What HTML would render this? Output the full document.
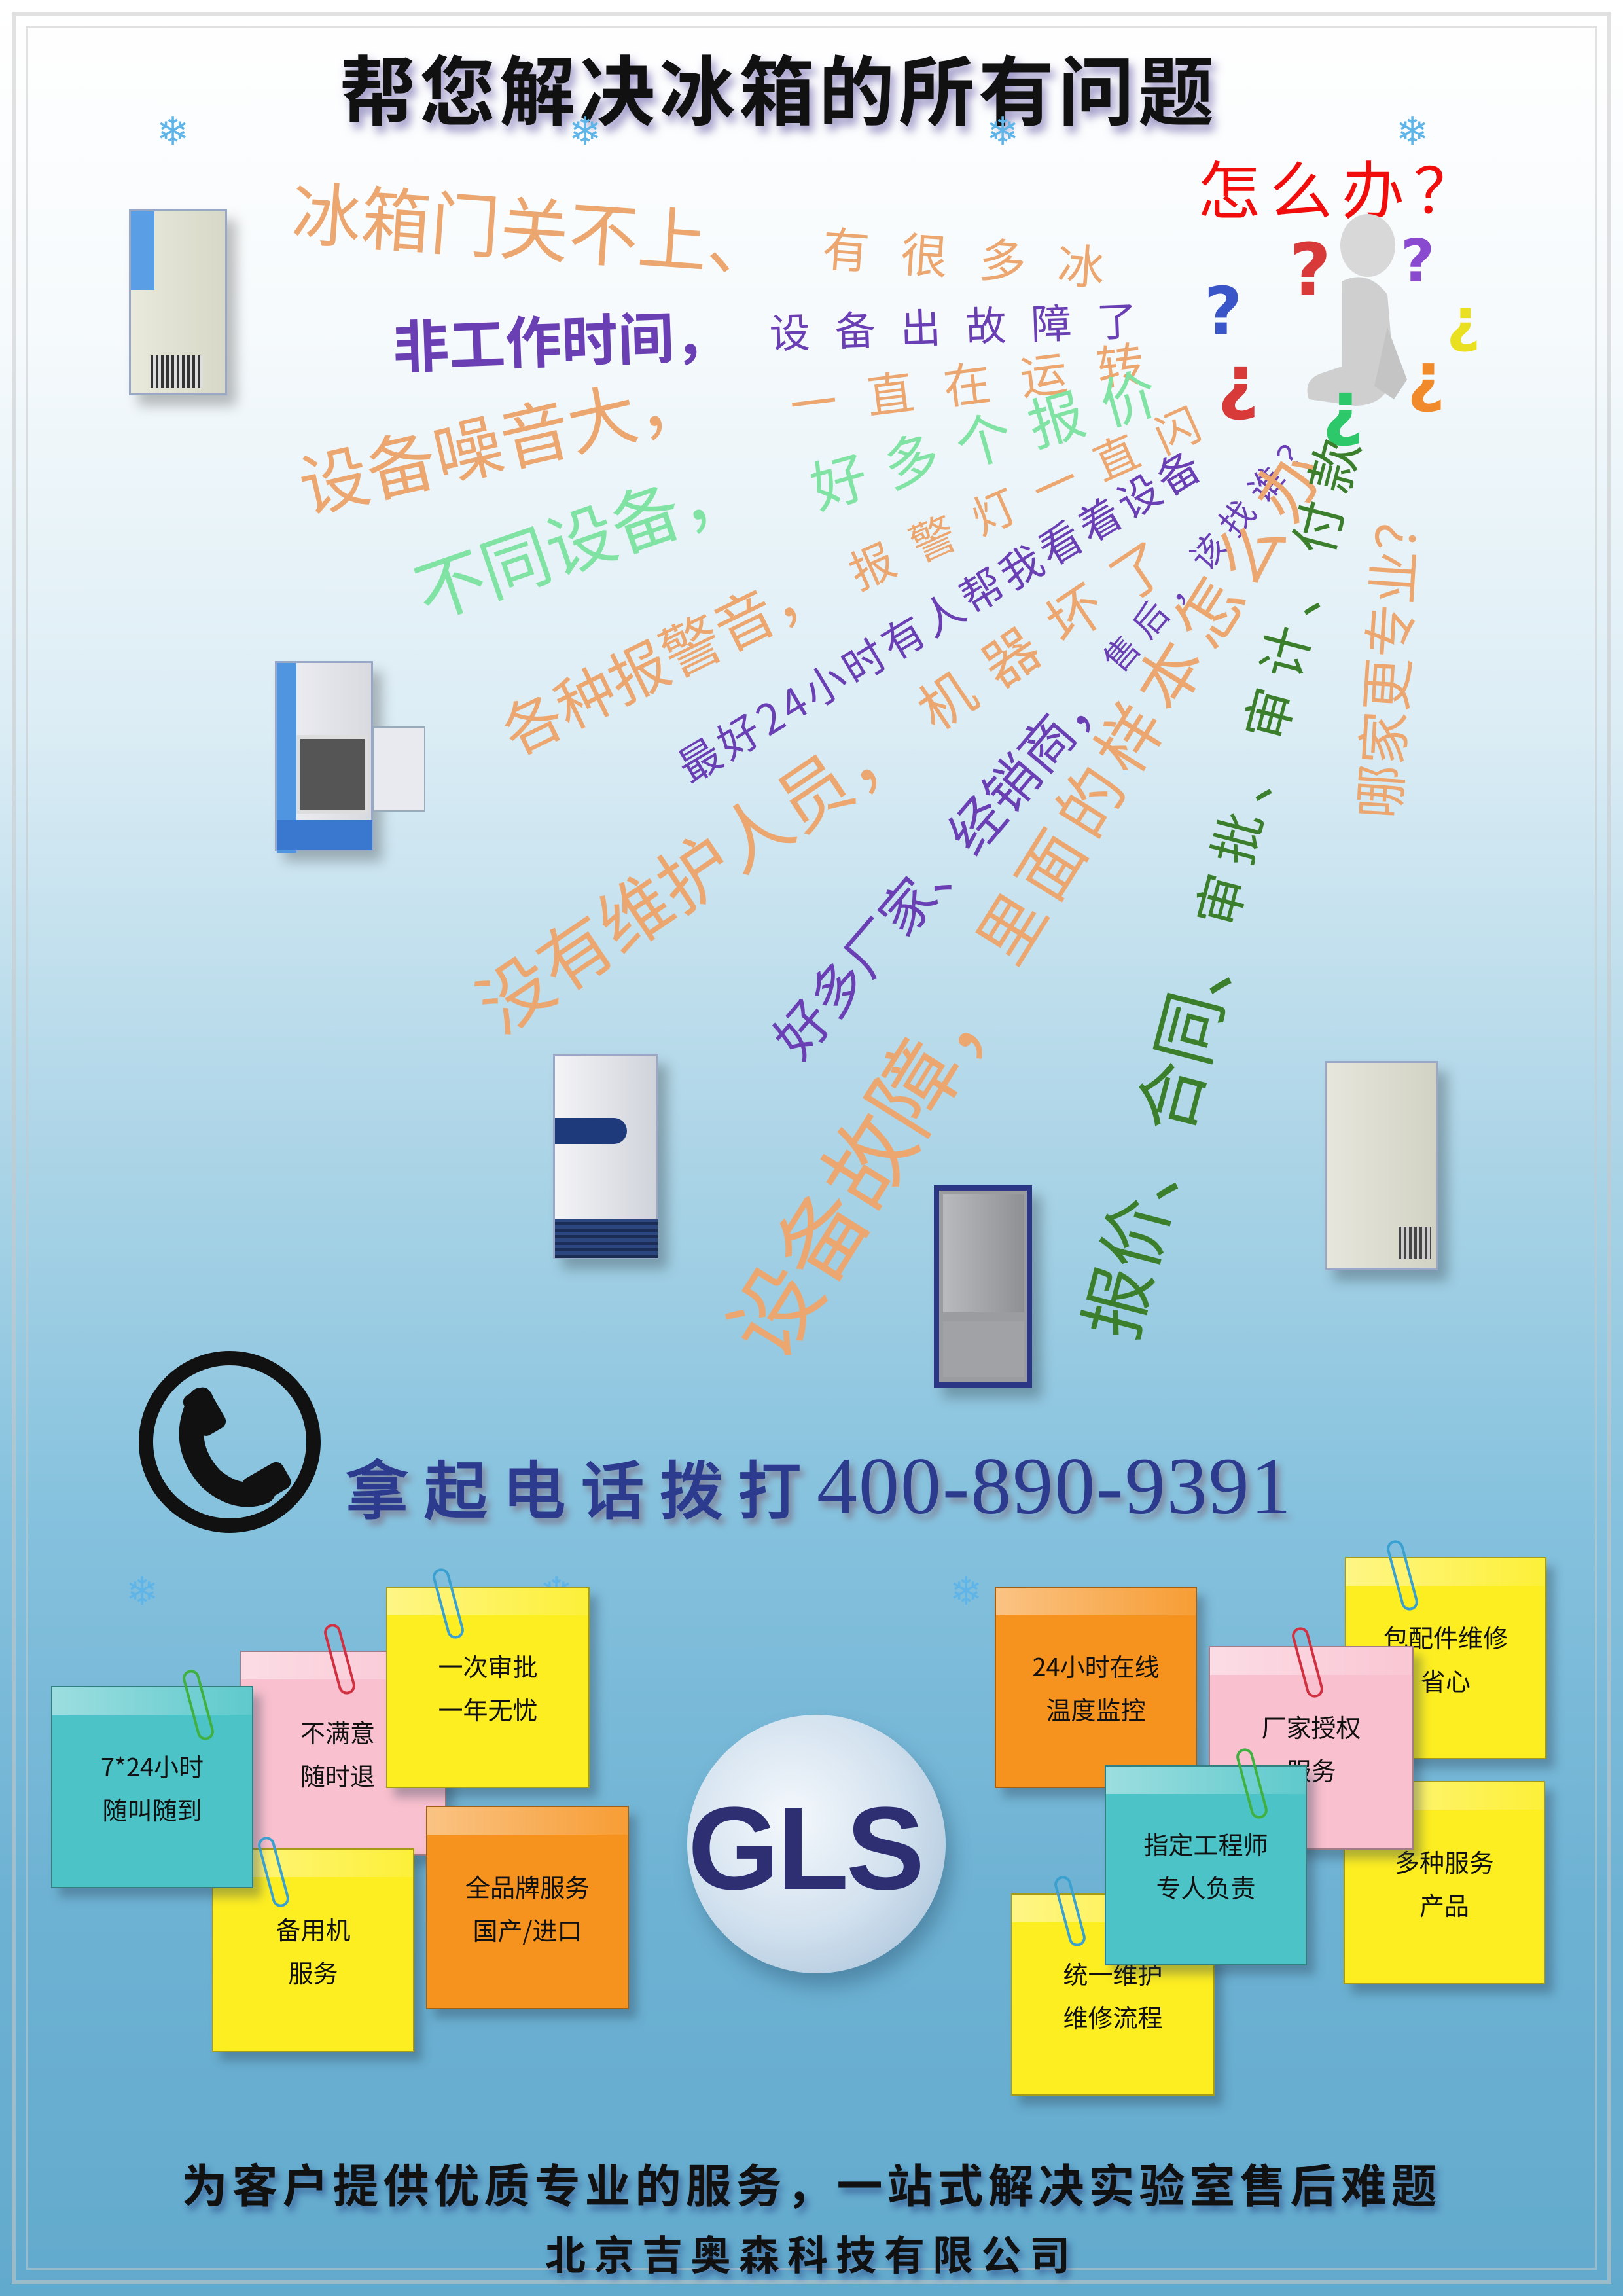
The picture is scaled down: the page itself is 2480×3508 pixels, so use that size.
<!DOCTYPE html>
<html><head><meta charset="utf-8">
<style>
*{margin:0;padding:0;box-sizing:border-box}
body{width:2480px;height:3508px;overflow:hidden;position:relative;font-family:"Liberation Sans","WenQuanYi Zen Hei","Noto Sans CJK SC",sans-serif;
background:linear-gradient(180deg,#ffffff 0px,#f6fafc 500px,#dcedf5 1100px,#a9d3e6 1800px,#86c2de 2300px,#6eb2d3 2900px,#62aacd 3508px);}
.abs{position:absolute}
.frame{position:absolute;border:6px solid rgba(200,200,200,.55)}
.ln{position:absolute;white-space:nowrap;transform-origin:0 50%;display:flex;align-items:center;line-height:1;font-family:"WenQuanYi Zen Hei","Noto Sans CJK SC",sans-serif}
.o{color:#eca670}.p{color:#6a3fb3}.g{color:#80e3a4}.dg{color:#3b7f2c}
.snow{position:absolute;color:#5fb4e8;font-size:60px;font-family:"DejaVu Sans",sans-serif;transform:translate(-50%,-50%)}
.note{position:absolute;box-shadow:12px 14px 14px rgba(40,60,80,.35);border:2px solid rgba(0,0,0,.35);display:flex;flex-direction:column;justify-content:center;align-items:center;font-size:38px;line-height:66px;color:#111;text-align:center;font-family:"Noto Sans CJK SC","WenQuanYi Zen Hei",sans-serif}
.note::before{content:"";position:absolute;left:0;right:0;top:0;height:42px;background:linear-gradient(90deg,rgba(255,255,255,.45),rgba(255,255,255,.1))}
.y{background:#fdee22}.pk{background:#f9c0cf}.t{background:#4cc3c6}.or{background:#f6921e}
.clip{position:absolute;width:26px;height:110px;border:4px solid;border-radius:14px;transform:rotate(-15deg)}
.fr{position:absolute;border:3px solid #9aa8c8;box-shadow:14px 16px 18px rgba(0,0,0,.25)}
</style></head><body>

<div class="frame" style="left:18px;top:18px;width:2444px;height:3472px"></div>
<div class="frame" style="left:40px;top:40px;width:2400px;height:3428px;border-width:3px"></div>

<div class="abs" style="left:-50px;width:2480px;top:48px;text-align:center;font-size:116px;font-weight:bold;color:#111;text-shadow:6px 10px 14px rgba(90,80,160,.6);font-family:'WenQuanYi Zen Hei','Noto Sans CJK SC',sans-serif;letter-spacing:6px">帮您解决冰箱的所有问题</div>

<div class="snow" style="left:264px;top:201px">❄</div>
<div class="snow" style="left:894px;top:201px">❄</div>
<div class="snow" style="left:1532px;top:201px">❄</div>
<div class="snow" style="left:2158px;top:201px">❄</div>
<div class="snow" style="left:217px;top:2432px">❄</div>
<div class="snow" style="left:850px;top:2432px">❄</div>
<div class="snow" style="left:1476px;top:2432px">❄</div>
<div class="snow" style="left:2110px;top:2432px">❄</div>

<div class="abs" style="left:1830px;top:215px;font-size:96px;color:#f20d0d;font-family:'WenQuanYi Zen Hei',sans-serif;letter-spacing:14px">怎么办？</div>

<svg class="abs" style="left:1820px;top:320px" width="520" height="370" viewBox="0 0 520 370">
<ellipse cx="270" cy="55" rx="42" ry="48" fill="#d8d8d8"/>
<path d="M230 110 Q270 90 300 130 L310 250 Q300 300 250 300 L180 290 Q170 260 200 250 L230 240 Z" fill="#cfcfcf"/>
<path d="M300 180 L330 260 L310 290 L280 270Z" fill="#c4c4c4"/>
<text x="150" y="130" font-size="110" font-weight="bold" fill="#d83a3a" font-family="DejaVu Sans">?</text>
<text x="320" y="110" font-size="90" font-weight="bold" fill="#8a4ad0" font-family="DejaVu Sans">?</text>
<text x="20" y="190" font-size="100" font-weight="bold" fill="#3a55c8" font-family="DejaVu Sans">?</text>
<text x="390" y="200" font-size="90" font-weight="bold" fill="#e8e020" font-family="DejaVu Sans">¿</text>
<text x="40" y="300" font-size="110" font-weight="bold" fill="#d83a3a" font-family="DejaVu Sans">¿</text>
<text x="200" y="340" font-size="110" font-weight="bold" fill="#2dc86a" font-family="DejaVu Sans">¿</text>
<text x="330" y="290" font-size="100" font-weight="bold" fill="#f08a2a" font-family="DejaVu Sans">¿</text>
</svg>

<div class="ln o" style="left:447px;top:268px;height:100px;transform:rotate(4deg)"><span style="font-size:106px">冰箱门关不上、</span><span style="font-size:72px;letter-spacing:48px;margin-left:70px">有很多冰</span></div>
<div class="ln p" style="left:600px;top:480px;height:90px;transform:rotate(-2deg)"><span style="font-size:86px;font-weight:bold">非工作时间，</span><span style="font-size:62px;letter-spacing:38px;margin-left:60px">设备出故障了</span></div>
<div class="ln o" style="left:458px;top:690px;height:100px;transform:rotate(-13deg)"><span style="font-size:105px">设备噪音大，</span></div>
<div class="ln o" style="left:1207px;top:580px;height:72px;transform:rotate(-7deg)"><span style="font-size:72px;letter-spacing:46px">一直在运转</span></div>
<div class="ln g" style="left:637px;top:855px;height:100px;transform:rotate(-19deg)"><span style="font-size:105px">不同设备，</span></div>
<div class="ln g" style="left:1240px;top:700px;height:85px;transform:rotate(-16deg)"><span style="font-size:85px;letter-spacing:30px">好多个报价</span></div>
<div class="ln o" style="left:771px;top:1075px;height:90px;transform:rotate(-26deg)"><span style="font-size:90px">各种报警音，</span></div>
<div class="ln o" style="left:1300px;top:840px;height:70px;transform:rotate(-24deg)"><span style="font-size:68px;letter-spacing:34px">报警灯一直闪</span></div>
<div class="ln p" style="left:1040px;top:1140px;height:70px;transform:rotate(-31deg)"><span style="font-size:64px;letter-spacing:6px">最好24小时有人帮我看着设备</span></div>
<div class="ln o" style="left:738px;top:1488px;height:110px;transform:rotate(-34deg)"><span style="font-size:110px">没有维护人员，</span><span style="font-size:84px;letter-spacing:34px;margin-left:40px">机器坏了</span></div>
<div class="ln p" style="left:1196px;top:1560px;height:80px;transform:rotate(-49.5deg)"><span style="font-size:82px">好多厂家、经销商，</span><span style="font-size:52px;letter-spacing:16px;margin-left:30px">售后，该找谁？</span></div>
<div class="ln o" style="left:1140px;top:1990px;height:130px;transform:rotate(-58deg)"><span style="font-size:135px">设备故障，</span><span style="font-size:100px;letter-spacing:14px;margin-left:30px">里面的样本怎么办</span></div>
<div class="ln dg" style="left:1688px;top:1990px;height:100px;transform:rotate(-75.4deg)"><span style="font-size:108px">报价、合同、</span><span style="font-size:80px;letter-spacing:18px">审批、审计、付款</span></div>
<div class="ln o" style="left:2102px;top:1210px;height:80px;transform:rotate(-86.5deg)"><span style="font-size:82px">哪家更专业？</span></div>

<div class="fr" style="left:197px;top:320px;width:150px;height:284px;background:linear-gradient(90deg,#e9e9dc,#d8d8c8)"><div class="abs" style="left:0;top:0;width:36px;height:120px;background:#5a9ee6"></div><div class="abs" style="left:30px;top:220px;width:80px;height:50px;background:repeating-linear-gradient(90deg,#333 0 4px,#ddd 4px 8px)"></div></div>
<div class="fr" style="left:420px;top:1010px;width:150px;height:290px;background:linear-gradient(90deg,#f0f0f4,#d8dae0)"><div class="abs" style="left:0;top:0;width:30px;height:290px;background:#4f95e0"></div><div class="abs" style="left:30px;top:110px;width:110px;height:120px;background:#555;border:6px solid #ddd"></div><div class="abs" style="left:0;top:240px;width:146px;height:46px;background:#3a78d0"></div></div>
<div class="abs" style="left:570px;top:1110px;width:80px;height:130px;background:#e8eaf0;border:2px solid #9ab"></div>
<div class="fr" style="left:845px;top:1610px;width:161px;height:313px;background:linear-gradient(90deg,#f4f4f6,#cfd3da)"><div class="abs" style="left:0;top:95px;width:110px;height:40px;background:#1e3a7a;border-radius:0 20px 20px 0"></div><div class="abs" style="left:0;top:250px;width:157px;height:59px;background:repeating-linear-gradient(0deg,#1b2c55 0 5px,#2c4680 5px 10px)"></div></div>
<div class="fr" style="left:1427px;top:1811px;width:150px;height:309px;background:#9a9ca0;border:8px solid #2b3785"><div class="abs" style="left:6px;top:6px;width:124px;height:180px;background:linear-gradient(90deg,#b8babe,#8e9094)"></div><div class="abs" style="left:6px;top:200px;width:124px;height:85px;background:#a0a2a6"></div></div>
<div class="fr" style="left:2024px;top:1621px;width:174px;height:320px;background:linear-gradient(90deg,#e6e6dc,#d2d2c4)"><div class="abs" style="left:110px;top:250px;width:50px;height:50px;background:repeating-linear-gradient(90deg,#444 0 4px,#ccc 4px 8px)"></div></div>

<div class="abs" style="left:212px;top:2064px;width:278px;height:278px;border:22px solid #111;border-radius:50%"></div>
<svg class="abs" style="left:212px;top:2064px" width="278" height="278" viewBox="0 0 278 278">
<path d="M95 75 Q60 140 110 195 Q150 230 190 215" fill="none" stroke="#111" stroke-width="38" stroke-linecap="round"/>
<rect x="78" y="58" width="45" height="70" rx="12" fill="#111" transform="rotate(-30 100 93)"/>
<rect x="160" y="180" width="70" height="45" rx="12" fill="#111" transform="rotate(-30 195 202)"/>
</svg>
<div class="abs" style="left:528px;top:2200px;white-space:nowrap;color:#2c3b8e;text-shadow:6px 8px 10px rgba(120,60,80,.45);display:flex;align-items:baseline"><span style="font-size:96px;font-weight:bold;font-family:'WenQuanYi Zen Hei',sans-serif;letter-spacing:24px">拿起电话拨打</span><span style="font-size:124px;font-family:'Liberation Serif',serif;letter-spacing:2px">400-890-9391</span></div>

<div class="note pk" style="left:367px;top:2522px;width:315px;height:313px;align-items:flex-start"><span style="margin-left:90px">不满意<br>随时退</span></div>
<div class="note y" style="left:590px;top:2424px;width:311px;height:308px">一次审批<br>一年无忧</div>
<div class="note y" style="left:324px;top:2824px;width:309px;height:311px">备用机<br>服务</div>
<div class="note t" style="left:78px;top:2576px;width:309px;height:309px">7*24小时<br>随叫随到</div>
<div class="note or" style="left:651px;top:2759px;width:310px;height:311px">全品牌服务<br>国产/进口</div>
<div class="clip" style="left:672px;top:2395px;border-color:#3aa0d0"></div>
<div class="clip" style="left:506px;top:2480px;border-color:#d03040"></div>
<div class="clip" style="left:290px;top:2550px;border-color:#40b040"></div>
<div class="clip" style="left:405px;top:2805px;border-color:#3aa0d0"></div>

<div class="abs" style="left:1050px;top:2620px;width:395px;height:395px;border-radius:50%;background:radial-gradient(circle at 40% 40%,#f4f8fc,#d3e2ef 50%,#a9c3da 90%,#95b2cc);box-shadow:10px 20px 30px rgba(30,60,90,.35)"></div>
<div class="abs" style="left:1000px;top:2735px;width:460px;text-align:center;font-size:180px;font-weight:bold;color:#2e2f72;font-family:'Liberation Sans',sans-serif;letter-spacing:-4px;line-height:1">GLS</div>

<div class="note y" style="left:2055px;top:2379px;width:308px;height:309px">包配件维修<br>省心</div>
<div class="note y" style="left:2053px;top:2721px;width:308px;height:311px">多种服务<br>产品</div>
<div class="note or" style="left:1520px;top:2424px;width:309px;height:308px">24小时在线<br>温度监控</div>
<div class="note pk" style="left:1847px;top:2515px;width:313px;height:311px">厂家授权<br>服务</div>
<div class="note y" style="left:1545px;top:2893px;width:311px;height:309px">统一维护<br>维修流程</div>
<div class="note t" style="left:1688px;top:2697px;width:309px;height:306px">指定工程师<br>专人负责</div>
<div class="clip" style="left:2130px;top:2352px;border-color:#3aa0d0"></div>
<div class="clip" style="left:1985px;top:2485px;border-color:#d03040"></div>
<div class="clip" style="left:1900px;top:2670px;border-color:#40b040"></div>
<div class="clip" style="left:1622px;top:2865px;border-color:#3aa0d0"></div>

<div class="abs" style="left:0;width:2480px;top:3285px;text-align:center;font-size:70px;font-weight:bold;color:#111;text-shadow:5px 8px 10px rgba(30,50,120,.5);font-family:'WenQuanYi Zen Hei','Noto Sans CJK SC',sans-serif;letter-spacing:7px">为客户提供优质专业的服务，一站式解决实验室售后难题</div>
<div class="abs" style="left:0;width:2480px;top:3396px;text-align:center;font-size:62px;font-weight:bold;color:#111;text-shadow:5px 8px 10px rgba(30,50,120,.5);font-family:'WenQuanYi Zen Hei','Noto Sans CJK SC',sans-serif;letter-spacing:12px">北京吉奥森科技有限公司</div>
</body></html>
